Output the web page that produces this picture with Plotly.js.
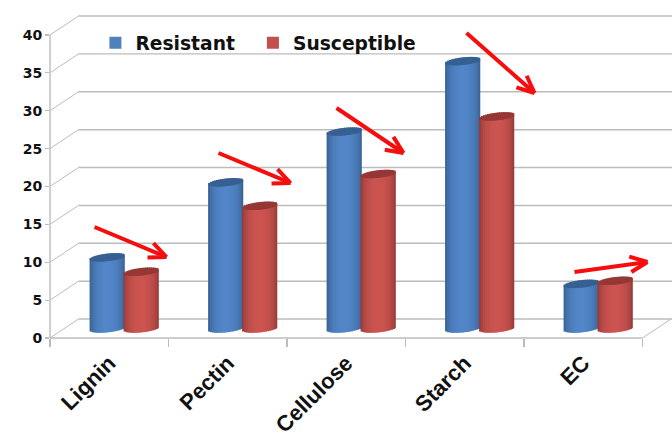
<!DOCTYPE html>
<html>
<head>
<meta charset="utf-8">
<script src="https://cdn.plot.ly/plotly-3.0.1.min.js"></script>
<style>html,body{margin:0;padding:0;background:#fff}</style>
</head>
<body>
<div id="chart" style="width:672px;height:441px"></div>
<script>
const categories = ["Lignin", "Pectin", "Cellulose", "Starch", "EC"];
const resistant = [9.4, 19.3, 26.0, 35.3, 5.9];
const susceptible = [7.5, 16.2, 20.4, 28.0, 6.3];
const yTicks = [0, 5, 10, 15, 20, 25, 30, 35, 40];
// arrows: start and tip, in axis units (category position, value)
const arrowStartX = [-0.124, 0.922, 1.918, 3.015, 3.926];
const arrowStartY = [14.65, 24.42, 30.36, 40.26, 8.71];
const arrowTipX = [0.483, 1.530, 2.483, 3.589, 4.542];
const arrowTipY = [10.69, 20.46, 24.42, 32.34, 10.03];

const X_MIN = -0.5, X_MAX = 4.749, Y_MAX = 42.77;
const PX_X = 118.5, PX_Y = 7.575;      // pixels per axis unit
const DEPTH_X = 0.24, DEPTH_Y = 2.5;   // pseudo-3D wall depth
const LIFT = 1.25, CAP = 0.5, TILT = 0.25, BAR_W = 0.297, STRIPS = 18;
const GRID = "#bcbcbc", AXIS_FONT = "DejaVu Sans";

const series = [
  {name: "Resistant", values: resistant, off: -0.166, main: "#4f81bd", edge: [50, 88, 135], mid: [82, 134, 200], cap: "#366092"},
  {name: "Susceptible", values: susceptible, off: 0.121, main: "#c0504d", edge: [135, 52, 50], mid: [204, 84, 80], cap: "#953735"}
];

function mix(a, b, k) {
  return "rgb(" + a.map((v, i) => Math.round(v + (b[i] - v) * k)).join(",") + ")";
}

const traces = [];
series.forEach(s => {
  const strips = [];
  for (let j = 0; j < STRIPS; j++) {
    const t = (j + 0.5) / STRIPS * 2 - 1;
    strips.push({t: t, r: Math.sqrt(1 - t * t), offset: s.off + j / STRIPS * BAR_W,
      width: BAR_W / STRIPS * (j === STRIPS - 1 ? 1 : 1.7)});
  }
  const common = st => ({type: "bar", x: categories, width: st.width, offset: st.offset,
    hoverinfo: "skip", showlegend: false});
  // cylinder wall, left to right
  strips.forEach(st => traces.push(Object.assign(common(st), {
    base: s.values.map(() => LIFT + TILT * st.t - CAP * st.r),
    y: s.values.map(v => v + CAP * st.r),
    marker: {color: mix(s.edge, s.mid, Math.pow(st.r, 1.1)), line: {width: 0}}
  })));
  // top cap
  strips.forEach(st => traces.push(Object.assign(common(st), {
    base: s.values.map(v => v + LIFT + TILT * st.t - CAP * st.r),
    y: s.values.map(() => 2 * CAP * st.r),
    marker: {color: s.cap, line: {width: 0}}
  })));
});
// legend swatches; the no-break spaces set the distance between the two entries
series.forEach((s, i) => traces.push({type: "bar", name: s.name + (i === 0 ? "\u00a0\u00a0" : ""), x: [categories[0]], y: [null],
  marker: {color: s.main, line: {width: 0}}, showlegend: true, hoverinfo: "skip"}));

const px = x => (x - X_MIN) / (X_MAX - X_MIN);
const py = y => y / Y_MAX;
const line = (x0, y0, x1, y1, extra) => Object.assign({type: "line", xref: "paper", yref: "paper",
  x0: px(x0), y0: py(y0), x1: px(x1), y1: py(y1), layer: "below", line: {color: GRID, width: 1.4}}, extra || {});

const shapes = [];
yTicks.forEach(v => {
  shapes.push(line(X_MIN + DEPTH_X, v + DEPTH_Y, X_MAX, v + DEPTH_Y));
  shapes.push(line(X_MIN, v, X_MIN + DEPTH_X, v + DEPTH_Y, {line: {color: GRID, width: 1}}));
});
shapes.push(line(X_MIN, 0, X_MIN, 40));
shapes.push(line(X_MIN, 0, 4.5, 0));
shapes.push(line(4.5, 0, 4.5 + DEPTH_X, DEPTH_Y, {line: {color: GRID, width: 1}}));

arrowTipX.forEach((tx, i) => {
  const tipX = tx * PX_X, tipY = arrowTipY[i] * PX_Y;
  const sx = arrowStartX[i] * PX_X, sy = arrowStartY[i] * PX_Y;
  const ang = Math.atan2(sy - tipY, sx - tipX);
  const red = {line: {color: "#f60d0d", width: 4}, layer: "above"};
  shapes.push(line(arrowStartX[i], arrowStartY[i], tx, arrowTipY[i], red));
  [-0.42, 0.42].forEach(d => {
    shapes.push(line(
      (tipX + 19 * Math.cos(ang + d)) / PX_X, (tipY + 19 * Math.sin(ang + d)) / PX_Y, tx, arrowTipY[i], red));
  });
});

const layout = {
  width: 672, height: 441,
  margin: {l: 50, r: 0, t: 14, b: 103, pad: 0},
  paper_bgcolor: "#fff", plot_bgcolor: "#fff",
  barmode: "overlay", showlegend: true,
  xaxis: {type: "category", categoryorder: "array", categoryarray: categories, range: [X_MIN, X_MAX],
    tickson: "boundaries", ticks: "outside", ticklen: 8, tickcolor: GRID, tickwidth: 1.2,
    tickangle: -45, ticklabelstandoff: 7, showgrid: false, zeroline: false, showline: false, automargin: false,
    tickfont: {family: "Liberation Sans", size: 22, weight: 700, color: "#111"}},
  yaxis: {range: [0, Y_MAX], tickvals: yTicks, ticks: "outside", ticklen: 4, tickcolor: GRID, tickwidth: 1.2,
    showgrid: false, zeroline: false, showline: false, automargin: false,
    tickfont: {family: AXIS_FONT, size: 14, weight: 700, color: "#111"}},
  legend: {orientation: "h", x: 0.073, y: 0.91, xanchor: "left", yanchor: "middle",
    bgcolor: "rgba(0,0,0,0)",
    font: {family: AXIS_FONT, size: 18.7, weight: 700, color: "#111"}},
  shapes: shapes
};
Plotly.newPlot("chart", traces, layout, {displayModeBar: false, staticPlot: true});
</script>
</body>
</html>
